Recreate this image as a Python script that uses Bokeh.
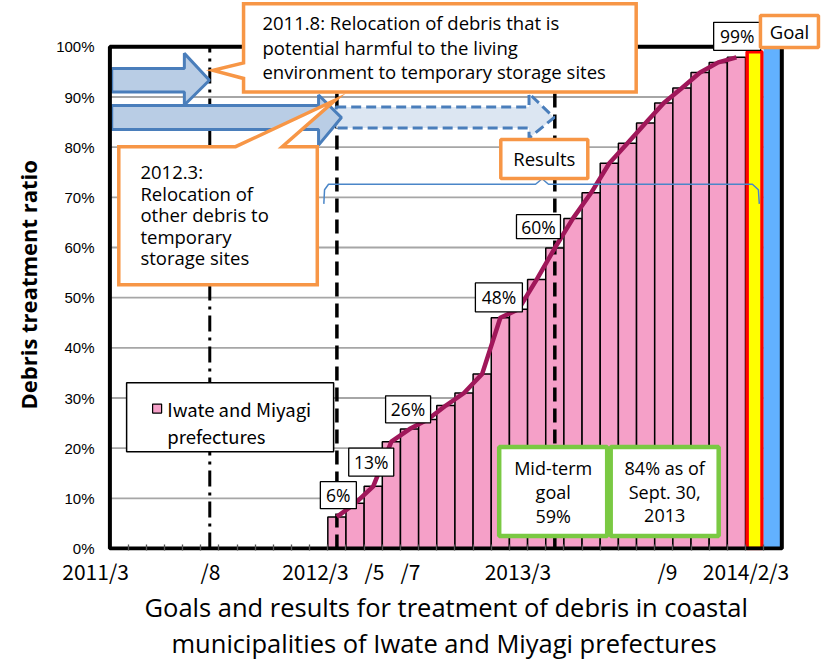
from bokeh.plotting import figure
from bokeh.models import FixedTicker, PrintfTickFormatter, Range1d, Title
from bokeh.core.properties import value
from bokeh.embed import file_html
from bokeh.resources import INLINE

# ---------------- data ----------------
bar_months = ["2012/3", "2012/4", "2012/5", "2012/6", "2012/7", "2012/8", "2012/9",
              "2012/10", "2012/11", "2012/12", "2013/1", "2013/2", "2013/3", "2013/4",
              "2013/5", "2013/6", "2013/7", "2013/8", "2013/9", "2013/10", "2013/11",
              "2013/12", "2014/1"]
ratio = [6.3, 9.0, 12.4, 21.3, 23.8, 25.7, 28.5, 31.0, 34.8, 46.0, 47.7, 53.6,
         59.9, 65.8, 70.9, 76.8, 80.8, 84.8, 88.8, 91.8, 94.9, 96.9, 97.9]
plan_month = ["2014/2"]
plan_ratio = [99]
goal_month = ["2014/3"]
goal_ratio = [100]
event_months = ["2011/8", "2012/3", "2013/3"]

y_ticks = [0, 10, 20, 30, 40, 50, 60, 70, 80, 90, 100]
tick_labels = ["2011/3", "/8", "2012/3", "/5", "/7", "2013/3", "/9", "2014/2/3"]
value_labels = ["6%", "13%", "26%", "48%", "60%", "99%"]
callout1_lines = ["2011.8: Relocation of debris that is",
                  "potential harmful to the living",
                  "environment to temporary storage sites"]
callout2_lines = ["2012.3:", "Relocation of", "other debris to", "temporary", "storage sites"]
mid_lines = ["Mid-term", "goal", "59%"]
asof_lines = ["84% as of", "Sept. 30,", "2013"]
legend_lines = ["Iwate and Miyagi", "prefectures"]
title_lines = ["Goals and results for treatment of debris in coastal",
               "municipalities of Iwate and Miyagi prefectures"]
y_title = "Debris treatment ratio"


def slot_of(m):
    yy, mm = m.split("/")
    return (int(yy) - 2011) * 12 + int(mm) - 3


bar_x = [slot_of(m) + 0.5 for m in bar_months]
plan_x = [slot_of(m) + 0.5 for m in plan_month]
goal_x = [slot_of(m) + 0.5 for m in goal_month]
n_slots = slot_of(goal_month[0]) + 1

# ---------------- styles ----------------
PINK = "#F5A0C8"
ORANGE = "#F79646"
GREEN = "#7AC943"
ARROW_LINE = "#4A7EBB"
FONT = "Open Sans"

p = figure(width=823, height=660, output_backend="svg", toolbar_location=None,
           x_range=Range1d(-1.0683, 39.295), y_range=Range1d(-0.3972, 109.236),
           min_border_left=90, min_border_right=0, min_border_top=0, min_border_bottom=108)
p.outline_line_color = None
p.xgrid.visible = False
p.ygrid.visible = False
p.background_fill_color = "white"
p.border_fill_color = "white"

# y axis
p.yaxis.ticker = FixedTicker(ticks=y_ticks)
p.yaxis.formatter = PrintfTickFormatter(format="%d%%")
p.yaxis.axis_line_color = None
p.yaxis.major_tick_line_color = None
p.yaxis.minor_tick_line_color = None
p.yaxis.major_tick_in = 0
p.yaxis.major_tick_out = 0
p.yaxis.major_label_standoff = -4
p.yaxis.major_label_text_font = "Liberation Sans"
p.yaxis.major_label_text_font_size = "15px"
p.yaxis.major_label_text_color = "black"

# y caption (left title, placed along the 0-100% span)
p.add_layout(Title(text=y_title, align="left", offset=141, standoff=19,
                   vertical_align="middle", text_font=FONT, text_font_size="22px",
                   text_font_style="bold", text_color="black"), "left")

# x axis: labels at their places, minor ticks at month boundaries
tl_x = [-0.79, 5.54, 11.32, 14.57, 16.55, 22.47, 30.7, 35.03]
bounds = list(range(1, n_slots))
p.xaxis.ticker = FixedTicker(ticks=tl_x, minor_ticks=bounds)
p.xaxis.major_label_overrides = {xx: t for xx, t in zip(tl_x, tick_labels)}
p.xaxis.axis_line_color = None
p.xaxis.major_tick_line_color = None
p.xaxis.major_tick_in = 0
p.xaxis.major_tick_out = 0
p.xaxis.minor_tick_in = 6
p.xaxis.minor_tick_out = 0
p.xaxis.minor_tick_line_color = "#555555"
p.xaxis.minor_tick_line_width = 1.3
p.xaxis.major_label_standoff = 5
p.xaxis.major_label_text_font = "Noto Sans CJK JP"
p.xaxis.major_label_text_font_size = "21px"
p.xaxis.major_label_text_color = "black"

# bottom caption (two lines)
for t, off in zip(title_lines, [54, 81]):
    p.add_layout(Title(text=t, align="left", offset=off, standoff=0,
                       vertical_align="middle", text_font=FONT,
                       text_font_size="25.5px", text_font_style="normal",
                       text_color="black"), "below")

# grid lines
gy = y_ticks[1:-1]
p.segment(x0=[0] * len(gy), x1=[n_slots] * len(gy), y0=gy, y1=gy,
          line_color="#A6A6A6", line_width=1.8)

# bars
p.vbar(x=bar_x, top=ratio, width=1, bottom=0, fill_color=PINK,
       line_color="black", line_width=1.5)
p.vbar(x=plan_x, top=plan_ratio, width=0.82, bottom=0, fill_color="#FFFF00",
       line_color="#FF0000", line_width=3.5)
p.vbar(x=goal_x, top=goal_ratio, width=1, bottom=0, fill_color="#62B1FF",
       line_color=None)

# event lines
ev = [slot_of(m) + 0.5 for m in event_months]
p.segment(x0=[ev[0]], x1=[ev[0]], y0=[0], y1=[100], line_color="black",
          line_width=3, line_dash="16 6 3 6")
p.segment(x0=ev[1:], x1=ev[1:], y0=[0, 0], y1=[100, 100], line_color="black",
          line_width=3.5, line_dash="14 7")

# results line
p.line(x=bar_x, y=ratio, line_color="#A0175A", line_width=4.5, line_join="round")

# brace
p.line(x=[11.78, 11.82, 12.04, 23.44, 23.8, 24.15, 35.38, 35.71, 35.76],
       y=[68.7, 71.5, 72.6, 72.6, 73.7, 72.6, 72.6, 71.5, 68.7],
       line_color="#4A86C8", line_width=1.5)

# arrows
p.patch(x=[12.46, 23.08, 23.08, 24.46, 23.08, 23.08, 12.46],
        y=[88.0, 88.0, 90.7, 85.9, 81.8, 83.8, 83.8],
        fill_color="#DCE6F2", line_color=ARROW_LINE, line_width=3, line_dash="10 5")
p.patch(x=[0.1, 11.49, 11.49, 12.75, 11.49, 11.49, 0.1],
        y=[88.3, 88.3, 90.4, 85.9, 80.4, 83.5, 83.5],
        fill_color="#B9CDE5", line_color=ARROW_LINE, line_width=3)
p.patch(x=[0.1, 4.1, 4.1, 5.48, 4.1, 4.1, 0.1],
        y=[95.7, 95.7, 98.7, 93.35, 88.4, 91.0, 91.0],
        fill_color="#B9CDE5", line_color=ARROW_LINE, line_width=3)

# frame border
p.quad(left=[0], right=[n_slots], bottom=[0], top=[100], fill_color=None,
       line_color="black", line_width=4)

# legend box
p.rect(x=[6.62], y=[26.15], width=[207], height=[69], width_units="screen",
       height_units="screen", fill_color="white", line_color="black", line_width=1.5)
p.scatter(x=[2.6], y=[27.9], marker="square", size=9, fill_color=PINK,
          line_color="black", line_width=1.2)
p.text(x=[3.16, 3.16], y=[27.9, 22.4], text=legend_lines,
       text_font=value("Noto Sans CJK JP"), text_font_size="18.5px",
       text_align="left", text_baseline="middle", text_color="black")

# value label boxes
vl_x = [12.58, 14.39, 16.42, 21.42, 23.6, 34.54]
vl_y = [10.63, 17.22, 27.75, 50.05, 64.15, 102.1]
vl_w = [36, 45, 45, 47, 44, 47]
vl_h = [27, 28, 27, 29, 24, 28]
p.rect(x=vl_x, y=vl_y, width=vl_w, height=vl_h, width_units="screen",
       height_units="screen", fill_color="white", line_color="black", line_width=1.3)
p.text(x=vl_x, y=vl_y, text=value_labels, text_font=value(FONT),
       text_font_size="17.5px", text_align="center", text_baseline="middle",
       text_color="black")

# orange boxes: Goal, Results
p.rect(x=[37.42, 23.92], y=[103.08, 77.65], width=[58, 87], height=[32, 39],
       width_units="screen", height_units="screen", fill_color="white",
       line_color=ORANGE, line_width=3.5)
p.text(x=[37.42, 23.92], y=[103.08, 77.65], text=["Goal", "Results"],
       text_font=value(FONT), text_font_size="18.5px", text_align="center",
       text_baseline="middle", text_color="black")

# green boxes
p.rect(x=[24.41, 30.55], y=[11.36, 11.36], width=[108, 108], height=[89, 89],
       width_units="screen", height_units="screen", fill_color="white",
       line_color=GREEN, line_width=4.5)
g_y = [16.03, 11.26, 6.5]
p.text(x=[24.41] * 3 + [30.55] * 3, y=g_y + g_y, text=mid_lines + asof_lines,
       text_font=value(FONT), text_font_size="18px", text_align="center",
       text_baseline="middle", text_color="black")

# callout 1 (2011.8)
L1, R1, T1, B1 = 7.36, 28.98, 108.6, 91.0
p.patch(x=[L1, R1, R1, L1, L1, 5.68, L1], y=[T1, T1, B1, B1, 93.7, 95.3, 96.8],
        fill_color="white", line_color=ORANGE, line_width=3.5, line_join="miter")
p.text(x=[8.4] * 3, y=[104.9, 99.9, 95.1], text=callout1_lines,
       text_font=value(FONT), text_font_size="18.5px", text_align="left",
       text_baseline="middle", text_color="black")

# callout 2 (2012.3)
L2, R2, T2, B2 = 0.49, 11.42, 80.1, 52.6
p.patch(x=[L2, R2, R2, 9.49, 12.42, 6.92, L2], y=[B2, B2, T2, T2, 89.4, T2, T2],
        fill_color="white", line_color=ORANGE, line_width=3.5, line_join="miter")
p.text(x=[1.68] * 5, y=[75.13, 70.84, 66.55, 62.26, 57.97], text=callout2_lines,
       text_font=value(FONT), text_font_size="18.5px", text_align="left",
       text_baseline="middle", text_color="black")

open("out.html", "w").write(file_html(p, INLINE))
